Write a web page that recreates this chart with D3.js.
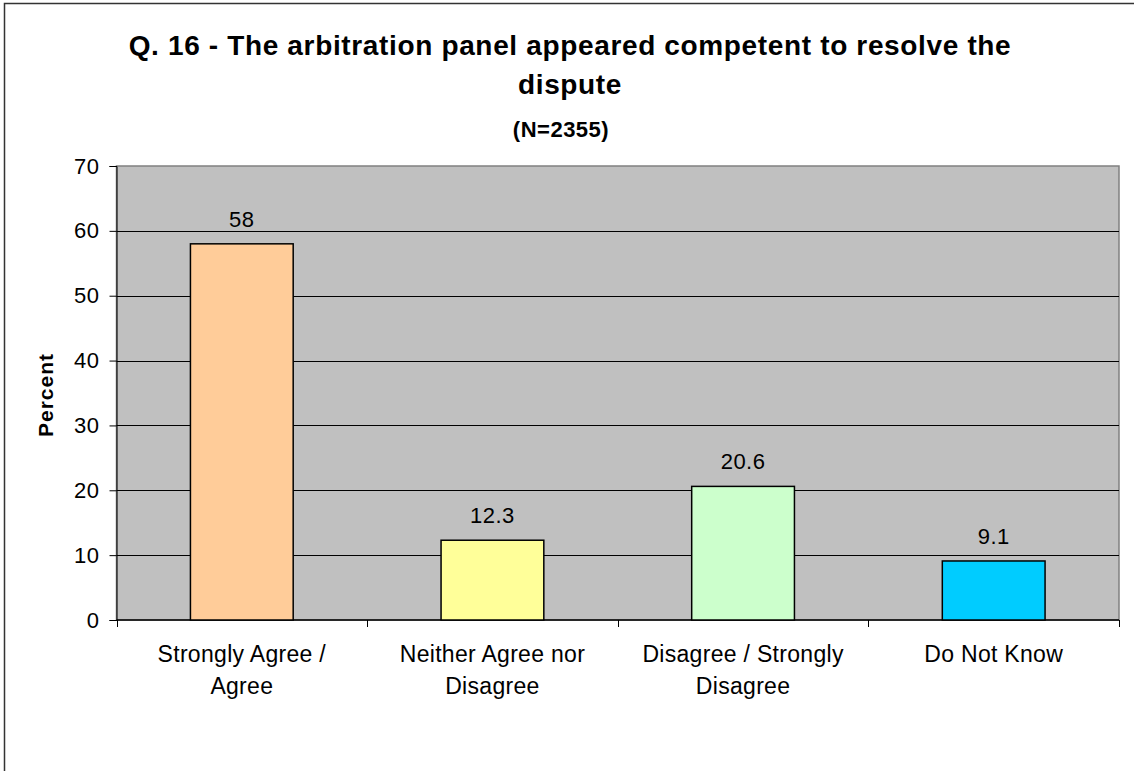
<!DOCTYPE html>
<html>
<head>
<meta charset="utf-8">
<script src="https://cdn.jsdelivr.net/npm/d3@7"></script>
<style>
  body { margin: 0; background: #fff; }
  text { font-family: "Liberation Sans", Arial, sans-serif; fill: #000; }
</style>
</head>
<body>
<div id="chart"></div>
<script>
// chart data
const categories = [["Strongly Agree /", "Agree"], ["Neither Agree nor", "Disagree"], ["Disagree / Strongly", "Disagree"], ["Do Not Know"]];
const values = [58, 12.3, 20.6, 9.1];
const labels = ["58", "12.3", "20.6", "9.1"];
const colors = ["#FFCC99", "#FFFF99", "#CCFFCC", "#00CCFF"];
const yTicks = [0, 10, 20, 30, 40, 50, 60, 70];

const width = 1134, height = 771;
const plot = { left: 116.5, right: 1119, top: 166, bottom: 620 };

const svg = d3.select("#chart").append("svg")
  .attr("width", width).attr("height", height);

// outer chart border
svg.append("rect")
  .attr("x", 4.5).attr("y", 3.5)
  .attr("width", 1140).attr("height", 800)
  .attr("fill", "#fff").attr("stroke", "#333").attr("stroke-width", 1.5);

const title = svg.append("g")
  .style("font-weight", "bold").attr("text-anchor", "middle");
title.append("text").attr("x", 570).attr("y", 55)
  .style("font-size", "28px").style("letter-spacing", "0.65px")
  .text("Q. 16 - The arbitration panel appeared competent to resolve the");
title.append("text").attr("x", 570).attr("y", 94)
  .style("font-size", "28px").style("letter-spacing", "0.6px")
  .text("dispute");
title.append("text").attr("x", 561).attr("y", 137)
  .style("font-size", "22px").style("letter-spacing", "0.5px")
  .text("(N=2355)");

const x = d3.scaleBand()
  .domain(d3.range(categories.length))
  .range([plot.left, plot.right]);

const y = d3.scaleLinear()
  .domain([0, 70])
  .range([plot.bottom, plot.top]);

svg.append("rect")
  .attr("x", plot.left).attr("y", plot.top)
  .attr("width", plot.right - plot.left).attr("height", plot.bottom - plot.top)
  .attr("fill", "#C0C0C0").attr("stroke", "#808080").attr("stroke-width", 1.5);

// gridlines
svg.selectAll(".grid")
  .data(yTicks.filter(t => t > 0 && t < 70))
  .enter().append("line")
  .attr("x1", plot.left).attr("x2", plot.right)
  .attr("y1", d => Math.round(y(d)) + 0.5).attr("y2", d => Math.round(y(d)) + 0.5)
  .attr("stroke", "#000").attr("stroke-width", 1);

// y axis
const yAxis = svg.append("g")
  .attr("transform", `translate(${plot.left},0)`)
  .call(d3.axisLeft(y).tickValues(yTicks).tickSize(7).tickPadding(10));
yAxis.select(".domain").attr("stroke", "#000");
yAxis.selectAll("line").attr("stroke", "#000");
yAxis.selectAll("text")
  .attr("font-family", null)
  .style("font-size", "22px").style("letter-spacing", "0.5px");

svg.append("text")
  .attr("transform", `translate(53,${(plot.top + plot.bottom) / 2 + 2}) rotate(-90)`)
  .attr("text-anchor", "middle")
  .style("font-size", "21px").style("font-weight", "bold").style("letter-spacing", "1px")
  .text("Percent");

// x axis line and ticks
svg.append("line")
  .attr("x1", plot.left).attr("x2", plot.right)
  .attr("y1", plot.bottom).attr("y2", plot.bottom)
  .attr("stroke", "#000").attr("stroke-width", 1.5);
svg.selectAll(".xtick")
  .data(d3.range(categories.length + 1))
  .enter().append("line")
  .attr("x1", i => Math.round(plot.left + i * x.step()) + 0.5)
  .attr("x2", i => Math.round(plot.left + i * x.step()) + 0.5)
  .attr("y1", plot.bottom).attr("y2", plot.bottom + 7)
  .attr("stroke", "#000");

// bars
const barW = x.bandwidth() * 0.41;
svg.selectAll(".bar")
  .data(values)
  .enter().append("rect")
  .attr("x", (d, i) => x(i) + (x.bandwidth() - barW) / 2)
  .attr("y", d => y(d))
  .attr("width", barW)
  .attr("height", d => y(0) - y(d))
  .attr("fill", (d, i) => colors[i])
  .attr("stroke", "#000").attr("stroke-width", 1.5);

svg.selectAll(".val")
  .data(values)
  .enter().append("text")
  .attr("x", (d, i) => x(i) + x.bandwidth() / 2)
  .attr("y", d => y(d) - 17)
  .attr("text-anchor", "middle")
  .style("font-size", "22px").style("letter-spacing", "0.5px")
  .text((d, i) => labels[i]);

// category labels
categories.forEach((lines, i) => {
  lines.forEach((t, j) => {
    svg.append("text")
      .attr("x", x(i) + x.bandwidth() / 2)
      .attr("y", 662 + j * 32)
      .attr("text-anchor", "middle")
      .style("font-size", "23px").style("letter-spacing", "0.3px")
      .text(t);
  });
});
</script>
</body>
</html>
